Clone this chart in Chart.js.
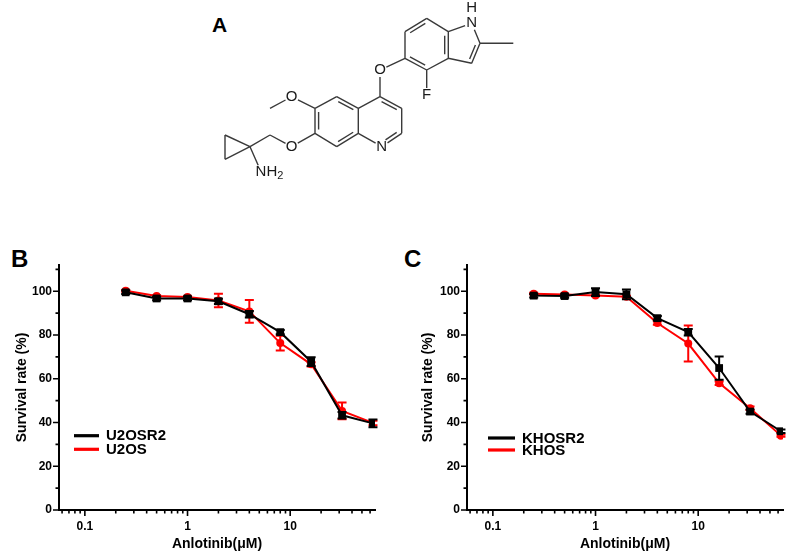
<!DOCTYPE html>
<html>
<head>
<meta charset="utf-8">
<script src="https://cdn.jsdelivr.net/npm/chart.js@4.4.1/dist/chart.umd.min.js"></script>
<style>
  body { margin: 0; background: #fff; width: 809px; height: 554px; position: relative; overflow: hidden;
         font-family: 'Liberation Sans', Arial, sans-serif; }
  .box { position: absolute; }
  .letter { position: absolute; font-weight: bold; font-size: 24px; line-height: 1; color: #000; }
</style>
</head>
<body>
<div class="letter" style="left:212px;top:14px;font-size:21px">A</div>
<div class="box" style="left:200px;top:0;width:330px;height:190px"><canvas id="mol"></canvas></div>
<div class="letter" style="left:11px;top:247px">B</div>
<div class="box" style="left:0;top:250px;width:400px;height:304px"><canvas id="chartB"></canvas></div>
<div class="letter" style="left:404px;top:247px">C</div>
<div class="box" style="left:400px;top:250px;width:409px;height:304px"><canvas id="chartC"></canvas></div>

<script>
// concentrations (uM) shared by both panels
const concentrations = [0.25, 0.5, 1, 2, 4, 8, 16, 32, 64];

// panel B
const u2osr2Mean = [99.5, 96.7, 96.7, 95.4, 89.5, 81.3, 67.8, 43.3, 39.6];
const u2osr2Err  = [0.8, 0.8, 0.8, 1.2, 1.5, 1.0, 2.0, 1.5, 1.8];
const u2osMean   = [100.2, 97.8, 97.4, 95.8, 90.8, 76.3, 66.6, 45.3, 39.8];
const u2osErr    = [0.4, 0.4, 0.4, 3.1, 5.2, 3.4, 1.0, 3.8, 1.0];

// panel C
const khosr2Mean = [98.0, 97.8, 99.6, 98.6, 87.7, 81.3, 64.9, 45.0, 36.0];
const khosr2Err  = [0.8, 0.8, 1.8, 2.2, 1.0, 1.5, 5.3, 1.0, 0.8];
const khosMean   = [98.9, 98.5, 98.1, 97.5, 85.5, 76.1, 58.0, 46.5, 34.0];
const khosErr    = [0.4, 0.4, 0.4, 0.5, 0.8, 8.2, 0.8, 0.8, 0.5];

// axis ticks
const yTickLabels = [0, 20, 40, 60, 80, 100];
const yMinorTicks = [10, 30, 50, 70, 90, 110];
const xTickLabels = [0.1, 1, 10];
const xMinorTicks = [0.06, 0.07, 0.08, 0.09, 0.2, 0.3, 0.4, 0.5, 0.6, 0.7, 0.8, 0.9,
                     2, 3, 4, 5, 6, 7, 8, 9, 20, 30, 40, 50, 60];

// structure of panel A (atom positions in the drawing frame)
const molAtoms = {
  i7: [426.7, 18.3], i7a: [448.3, 31.7], i3a: [448.3, 58.3], i4: [426.7, 70], i5: [405, 58.3], i6: [405, 31.7],
  iN: [471.7, 23.3], iH: [471.7, 8.3], i2: [480, 43.3], i3: [471.7, 63.3], iMe: [513.3, 43.3],
  F: [426.7, 95], O1: [380, 70],
  q4: [380, 96.7], q3: [401.7, 108.3], q2: [401.7, 133.3], qN: [381.7, 146.7], q8a: [358.3, 133.3], q4a: [358.3, 108.3],
  q5: [336.7, 96.7], q6: [315, 108.3], q7: [315, 133.3], q8: [336.7, 146.7],
  O6: [291.7, 96.7], me6: [270, 108.3],
  O7: [291.7, 146.7], ch2: [270, 135], cp1: [250, 146.7], cp2: [225, 135], cp3: [225, 159.3],
  nh2: [261, 171.7]
};
const molRings = {
  indBenz: ['i7', 'i7a', 'i3a', 'i4', 'i5', 'i6'],
  pyrrole: ['i7a', 'iN', 'i2', 'i3', 'i3a'],
  quinPy: ['q4', 'q3', 'q2', 'qN', 'q8a', 'q4a'],
  quinBz: ['q4a', 'q5', 'q6', 'q7', 'q8', 'q8a']
};
// [from, to, ring holding the inner line of a double bond]
const molBonds = [
  ['i7', 'i7a'], ['i7a', 'i3a', 'indBenz'], ['i3a', 'i4'], ['i4', 'i5', 'indBenz'], ['i5', 'i6'], ['i6', 'i7', 'indBenz'],
  ['i7a', 'iN'], ['iN', 'i2'], ['i2', 'i3', 'pyrrole'], ['i3', 'i3a'], ['i2', 'iMe'],
  ['i4', 'F'], ['i5', 'O1'], ['O1', 'q4'],
  ['q4', 'q3', 'quinPy'], ['q3', 'q2'], ['q2', 'qN', 'quinPy'], ['qN', 'q8a'], ['q8a', 'q4a'], ['q4a', 'q4'],
  ['q4a', 'q5', 'quinBz'], ['q5', 'q6'], ['q6', 'q7', 'quinBz'], ['q7', 'q8'], ['q8', 'q8a', 'quinBz'],
  ['q6', 'O6'], ['O6', 'me6'], ['q7', 'O7'], ['O7', 'ch2'], ['ch2', 'cp1'],
  ['cp1', 'cp2'], ['cp2', 'cp3'], ['cp3', 'cp1'], ['cp1', 'nh2']
];
const molLabels = { iN: 'N', iH: 'H', F: 'F', O1: 'O', O6: 'O', O7: 'O', qN: 'N', nh2: 'NH2' };

Chart.defaults.font.family = "'Liberation Sans', Arial, sans-serif";
Chart.defaults.color = '#000';

function toPoints(xs, ys) {
  return xs.map((x, i) => ({ x, y: ys[i] }));
}

const errorBarPlugin = {
  id: 'errorBars',
  afterDatasetDraw(chart, args) {
    const ds = chart.data.datasets[args.index];
    if (!ds.errorBars) {
      return;
    }
    const ctx = chart.ctx;
    const yScale = chart.scales.y;
    ctx.save();
    ctx.strokeStyle = ds.borderColor;
    ctx.lineWidth = 2;
    args.meta.data.forEach((pt, i) => {
      const err = ds.errorBars[i];
      const val = ds.data[i].y;
      const top = yScale.getPixelForValue(val + err);
      const bottom = yScale.getPixelForValue(val - err);
      ctx.beginPath();
      ctx.moveTo(pt.x, top);
      ctx.lineTo(pt.x, bottom);
      ctx.moveTo(pt.x - 4.5, top);
      ctx.lineTo(pt.x + 4.5, top);
      ctx.moveTo(pt.x - 4.5, bottom);
      ctx.lineTo(pt.x + 4.5, bottom);
      ctx.stroke();
    });
    ctx.restore();
  }
};

const axisMarksPlugin = {
  id: 'axisMarks',
  afterDraw(chart) {
    const ctx = chart.ctx;
    const xs = chart.scales.x;
    const ys = chart.scales.y;
    const axisX = chart.chartArea.left;
    const axisY = chart.chartArea.bottom;
    ctx.save();
    ctx.strokeStyle = '#000';
    ctx.lineWidth = 1.6;
    ctx.beginPath();
    yTickLabels.forEach((v) => {
      const py = ys.getPixelForValue(v);
      ctx.moveTo(axisX, py);
      ctx.lineTo(axisX - 6, py);
    });
    yMinorTicks.forEach((v) => {
      const py = ys.getPixelForValue(v);
      ctx.moveTo(axisX, py);
      ctx.lineTo(axisX - 3.5, py);
    });
    xTickLabels.forEach((v) => {
      const px = xs.getPixelForValue(v);
      ctx.moveTo(px, axisY);
      ctx.lineTo(px, axisY + 6);
    });
    xMinorTicks.forEach((v) => {
      const px = xs.getPixelForValue(v);
      ctx.moveTo(px, axisY);
      ctx.lineTo(px, axisY + 3.5);
    });
    ctx.stroke();
    ctx.restore();
  }
};

const curveLegendPlugin = {
  id: 'curveLegend',
  afterDraw(chart, args, opts) {
    const ctx = chart.ctx;
    ctx.save();
    ctx.font = 'bold 15px ' + Chart.defaults.font.family;
    ctx.textBaseline = 'middle';
    ctx.textAlign = 'left';
    chart.data.datasets.forEach((ds, i) => {
      const rowY = opts.rows[i];
      ctx.strokeStyle = ds.borderColor;
      ctx.lineWidth = 3.2;
      ctx.beginPath();
      ctx.moveTo(opts.x0, rowY);
      ctx.lineTo(opts.x1, rowY);
      ctx.stroke();
      ctx.fillStyle = '#000';
      ctx.fillText(ds.label, opts.textX, rowY + 0.5);
    });
    ctx.restore();
  }
};

function buildPanel(canvasId, panel) {
  return new Chart(document.getElementById(canvasId), {
    type: 'scatter',
    data: {
      datasets: [
        {
          label: panel.resistantLabel,
          data: toPoints(concentrations, panel.resistantMean),
          errorBars: panel.resistantErr,
          showLine: true,
          borderColor: '#000',
          backgroundColor: '#000',
          borderWidth: 2,
          pointStyle: 'rect',
          pointRadius: 5.5,
          pointBorderWidth: 0,
        },
        {
          label: panel.parentLabel,
          data: toPoints(concentrations, panel.parentMean),
          errorBars: panel.parentErr,
          showLine: true,
          borderColor: '#ff0000',
          backgroundColor: '#ff0000',
          borderWidth: 2,
          pointStyle: 'circle',
          pointRadius: 4,
          pointBorderWidth: 0,
        },
      ],
    },
    options: {
      responsive: true,
      maintainAspectRatio: false,
      animation: false,
      layout: { padding: { top: 15, right: panel.rightPad, left: 0, bottom: 0 } },
      plugins: {
        legend: { display: false },
        tooltip: { enabled: false },
        curveLegend: panel.legend,
      },
      scales: {
        x: {
          type: 'logarithmic',
          min: 0.056,
          max: 67,
          afterBuildTicks: (scale) => { scale.ticks = xTickLabels.map((v) => ({ value: v })); },
          afterFit: (scale) => { scale.height = 44; },
          grid: { display: false, drawTicks: false },
          border: { display: true, color: '#000', width: 2 },
          ticks: {
            color: '#000',
            autoSkip: false,
            maxRotation: 0,
            padding: 9,
            font: { size: 12, weight: 'bold' },
            callback: (v) => String(v),
          },
          title: {
            display: true,
            text: 'Anlotinib(μM)',
            color: '#000',
            font: { size: 14, weight: 'bold' },
            padding: { top: 0, bottom: 1 },
          },
        },
        y: {
          min: 0,
          max: 112,
          afterBuildTicks: (scale) => { scale.ticks = yTickLabels.map((v) => ({ value: v })); },
          afterFit: (scale) => { scale.width = panel.yWidth; },
          grid: { display: false, drawTicks: false },
          border: { display: true, color: '#000', width: 2 },
          ticks: {
            color: '#000',
            padding: 7,
            font: { size: 12, weight: 'bold' },
          },
          title: {
            display: true,
            text: 'Survival rate (%)',
            color: '#000',
            font: { size: 14, weight: 'bold' },
            padding: { top: panel.yTitlePad, bottom: 0 },
          },
        },
      },
    },
    plugins: [errorBarPlugin, axisMarksPlugin, curveLegendPlugin],
  });
}

function ringCenter(name) {
  const pts = molRings[name].map((a) => molAtoms[a]);
  return [
    pts.reduce((s, p) => s + p[0], 0) / pts.length,
    pts.reduce((s, p) => s + p[1], 0) / pts.length,
  ];
}

function trimSegment(p, q, trimP, trimQ) {
  const dx = q[0] - p[0];
  const dy = q[1] - p[1];
  const len = Math.hypot(dx, dy);
  const ux = dx / len;
  const uy = dy / len;
  return [
    [p[0] + ux * trimP, p[1] + uy * trimP],
    [q[0] - ux * trimQ, q[1] - uy * trimQ],
  ];
}

function buildBondPoints() {
  const points = [];
  const labelTrim = (a) => (molLabels[a] ? 7 : 0);
  molBonds.forEach(([a, b, ring]) => {
    const pa = molAtoms[a];
    const pb = molAtoms[b];
    const [s, e] = trimSegment(pa, pb, labelTrim(a), labelTrim(b));
    points.push({ x: s[0], y: s[1] }, { x: e[0], y: e[1] }, { x: e[0], y: null });
    if (ring) {
      const c = ringCenter(ring);
      const dx = pb[0] - pa[0];
      const dy = pb[1] - pa[1];
      const len = Math.hypot(dx, dy);
      let nx = -dy / len;
      let ny = dx / len;
      const mx = (pa[0] + pb[0]) / 2;
      const my = (pa[1] + pb[1]) / 2;
      if (nx * (c[0] - mx) + ny * (c[1] - my) < 0) {
        nx = -nx;
        ny = -ny;
      }
      const off = 3.6;
      const ia = [pa[0] + nx * off, pa[1] + ny * off];
      const ib = [pb[0] + nx * off, pb[1] + ny * off];
      const [is, ie] = trimSegment(ia, ib, Math.max(len * 0.15, labelTrim(a)), Math.max(len * 0.15, labelTrim(b)));
      points.push({ x: is[0], y: is[1] }, { x: ie[0], y: ie[1] }, { x: ie[0], y: null });
    }
  });
  return points;
}

const atomLabelPlugin = {
  id: 'atomLabels',
  afterDatasetsDraw(chart) {
    const ctx = chart.ctx;
    const xs = chart.scales.x;
    const ys = chart.scales.y;
    const family = Chart.defaults.font.family;
    ctx.save();
    ctx.fillStyle = '#1a1a1a';
    ctx.textBaseline = 'middle';
    Object.entries(molLabels).forEach(([atom, text]) => {
      const px = xs.getPixelForValue(molAtoms[atom][0]);
      const py = ys.getPixelForValue(molAtoms[atom][1]);
      ctx.font = '15px ' + family;
      if (text === 'NH2') {
        const nW = ctx.measureText('N').width;
        ctx.textAlign = 'left';
        const startX = px - nW / 2;
        ctx.fillText('NH', startX, py);
        const w = ctx.measureText('NH').width;
        ctx.font = '11px ' + family;
        ctx.fillText('2', startX + w, py + 4);
      } else {
        ctx.textAlign = 'center';
        ctx.fillText(text, px, py);
      }
    });
    ctx.restore();
  }
};

new Chart(document.getElementById('mol'), {
  type: 'scatter',
  data: {
    datasets: [{
      data: buildBondPoints(),
      showLine: true,
      spanGaps: false,
      borderColor: '#3a3a3a',
      borderWidth: 1.4,
      pointRadius: 0,
    }],
  },
  options: {
    responsive: true,
    maintainAspectRatio: false,
    animation: false,
    layout: { padding: 0 },
    plugins: { legend: { display: false }, tooltip: { enabled: false } },
    scales: {
      x: { type: 'linear', display: false, min: 200, max: 530 },
      y: { type: 'linear', display: false, min: 0, max: 190, reverse: true },
    },
  },
  plugins: [atomLabelPlugin],
});

buildPanel('chartB', {
  resistantLabel: 'U2OSR2', resistantMean: u2osr2Mean, resistantErr: u2osr2Err,
  parentLabel: 'U2OS', parentMean: u2osMean, parentErr: u2osErr,
  yWidth: 59, rightPad: 25, yTitlePad: 13.5,
  legend: { x0: 74, x1: 99, textX: 106, rows: [185.7, 199.3] },
});

buildPanel('chartC', {
  resistantLabel: 'KHOSR2', resistantMean: khosr2Mean, resistantErr: khosr2Err,
  parentLabel: 'KHOS', parentMean: khosMean, parentErr: khosErr,
  yWidth: 67, rightPad: 26, yTitlePad: 19.5,
  legend: { x0: 88, x1: 115, textX: 122, rows: [188, 200] },
});
</script>
</body>
</html>
